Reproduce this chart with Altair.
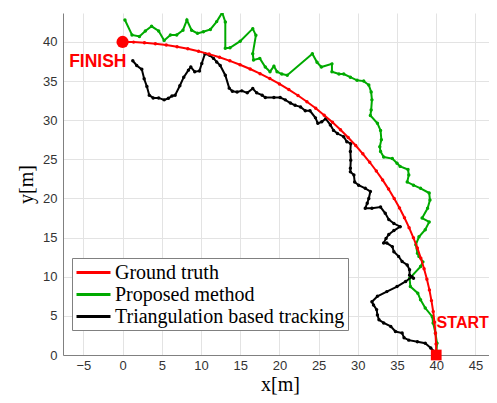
import altair as alt
import pandas as pd

# ---------------- data ----------------
gt_x = [40.00, 39.98, 39.90, 39.78, 39.61, 39.39, 39.13, 38.81, 38.45, 38.04, 37.59, 37.09,
        36.54, 35.95, 35.32, 34.64, 33.92, 33.16, 32.36, 31.52, 30.64, 29.73, 28.77, 27.79,
        26.77, 25.71, 24.63, 23.51, 22.37, 21.20, 20.00, 18.78, 17.53, 16.27, 14.98, 13.68,
        12.36, 11.03, 9.68, 8.32, 6.95, 5.57, 4.18, 2.79, 1.40, 0.00]
gt_y = [0.00, 1.40, 2.79, 4.18, 5.57, 6.95, 8.32, 9.68, 11.03, 12.36, 13.68, 14.98,
        16.27, 17.53, 18.78, 20.00, 21.20, 22.37, 23.51, 24.63, 25.71, 26.77, 27.79, 28.77,
        29.73, 30.64, 31.52, 32.36, 33.16, 33.92, 34.64, 35.32, 35.95, 36.54, 37.09, 37.59,
        38.04, 38.45, 38.81, 39.13, 39.39, 39.61, 39.78, 39.90, 39.98, 40.00]

pm_x = [40.0, 40.1, 39.9, 39.6, 39.5, 38.6, 38.0, 37.65, 36.7, 36.6, 38.0, 38.3, 37.8, 37.6,
        37.4, 37.8, 38.6, 39.1, 38.2, 38.9, 39.2, 39.1, 38.0, 37.1, 36.3, 36.5, 36.4, 35.4,
        35.0, 34.4, 33.3, 32.9, 32.8, 33.0, 32.9, 32.5, 31.6, 31.7, 31.8, 31.7, 31.4, 30.75,
        29.9, 29.05, 28.2, 27.6, 26.7, 26.7, 25.35, 24.8, 24.2, 21.0, 20.3, 19.7, 19.3, 18.8,
        18.2, 17.5, 16.7, 16.6, 17.0, 16.6, 15.0, 13.7, 13.1, 13.1, 12.7, 12.0, 11.2, 10.3,
        9.55, 8.8, 8.2, 7.7, 6.9, 6.1, 5.3, 4.6, 3.7, 2.9, 2.15, 1.2, 0.3]
pm_y = [0.0, 1.5, 2.8, 4.1, 4.9, 6.0, 7.05, 7.9, 8.75, 9.8, 11.3, 11.9, 12.6, 13.0,
        14.1, 15.1, 16.0, 17.0, 17.5, 18.75, 19.8, 20.7, 21.3, 21.7, 22.1, 23.0, 23.7, 24.1,
        24.5, 25.1, 25.3, 26.0, 26.6, 27.5, 28.7, 29.6, 30.6, 31.3, 32.6, 33.6, 34.5, 35.0,
        35.1, 35.5, 35.9, 35.9, 36.2, 37.2, 36.8, 37.4, 38.5, 35.75, 35.9, 36.2, 36.9, 36.2,
        36.8, 37.9, 37.7, 38.5, 40.85, 41.7, 40.1, 39.25, 39.2, 42.55, 43.75, 42.6, 41.6, 41.3,
        41.1, 41.5, 42.8, 41.5, 40.9, 40.9, 40.2, 41.4, 42.0, 41.4, 40.7, 40.9, 42.8]

tr_x = [39.9, 39.3, 38.6, 37.6, 36.5, 35.9, 35.65, 34.8, 34.2, 33.3, 32.7, 32.5, 32.4, 32.0,
        31.8, 32.5, 33.7, 35.0, 36.1, 36.9, 37.1, 36.6, 36.6, 36.3, 35.65, 35.2, 34.6, 34.4,
        33.7, 33.3, 33.6, 33.95, 34.6, 35.4, 34.6, 33.95, 33.5, 32.9, 31.8, 30.95, 31.2, 31.4,
        31.6, 30.95, 30.1, 29.6, 29.5, 29.05, 29.05, 29.1, 29.05, 29.1, 28.6, 28.2, 27.4, 26.9,
        26.5, 25.9, 25.4, 24.9, 24.6, 23.9, 23.3, 22.7, 22.0, 21.4, 20.75, 20.1, 19.3, 18.2,
        17.8, 17.1, 16.6, 15.9, 15.2, 14.6, 14.0, 13.6, 13.1, 12.45, 12.0, 11.6, 11.1, 10.5,
        10.1, 9.8, 9.2, 8.7, 8.4, 7.8, 7.3, 6.7, 6.3, 5.85, 5.3, 4.6, 3.9, 3.4, 3.1, 2.75,
        2.45, 1.8, 1.3]
tr_y = [0.3, 0.9, 1.5, 1.7, 1.9, 2.2, 2.8, 3.0, 3.65, 4.1, 4.5, 5.1, 5.8, 6.4,
        6.8, 7.5, 8.1, 8.75, 9.4, 10.0, 9.8, 10.2, 10.9, 11.5, 11.95, 12.6, 13.2, 13.85,
        14.3, 14.3, 14.9, 15.4, 15.9, 16.4, 16.8, 17.3, 18.1, 18.9, 18.75, 18.75, 19.4, 20.0,
        20.9, 21.3, 21.7, 22.1, 23.0, 23.4, 23.85, 24.9, 26.0, 27.0, 27.25, 27.9, 28.3, 28.7,
        29.4, 30.2, 29.8, 29.6, 30.3, 31.2, 31.2, 31.7, 31.9, 32.2, 32.6, 32.9, 32.9, 32.9,
        33.2, 33.5, 34.05, 33.5, 33.75, 33.6, 33.7, 34.1, 35.75, 37.0, 37.45, 37.9, 38.3, 38.5,
        37.25, 36.3, 36.2, 36.8, 36.4, 35.5, 34.4, 33.2, 33.1, 32.8, 32.6, 32.85, 32.85, 33.2, 34.3, 35.3,
        36.5, 37.0, 37.6]

series_names = ["Ground truth", "Proposed method", "Triangulation based tracking"]
series_colors = ["#FF0000", "#00AA00", "#000000"]

finish_xy = [0.0, 40.0]
start_xy = [40.0, 0.0]
label_text = ["FINISH", "START"]
label_x = [0.5, 40.05]
label_y = [37.5, 4.05]

x_ticks = [-5, 0, 5, 10, 15, 20, 25, 30, 35, 40, 45]
y_ticks = [0, 5, 10, 15, 20, 25, 30, 35, 40]

# ---------------- build table ----------------
rows = []
for name, xs, ys in zip(series_names, [gt_x, pm_x, tr_x], [gt_y, pm_y, tr_y]):
    for i, (a, b) in enumerate(zip(xs, ys)):
        rows.append({"series": name, "x": a, "y": b, "i": i})
df = pd.DataFrame(rows)

xscale = alt.Scale(domain=[-7.6, 46.73], nice=False, zero=False)
yscale = alt.Scale(domain=[0, 43.7], nice=False, zero=False)

xenc = alt.X("x:Q", scale=xscale,
             axis=alt.Axis(values=x_ticks, title="x[m]", grid=True, titleX=217))
yenc = alt.Y("y:Q", scale=yscale,
             axis=alt.Axis(values=y_ticks, title="y[m]", grid=True))

color = alt.Color(
    "series:N",
    scale=alt.Scale(domain=series_names, range=series_colors),
    legend=alt.Legend(
        orient="none", legendX=9, legendY=245, title=None,
        symbolType="M-1,0L2.4,0", symbolSize=400, symbolStrokeWidth=3,
        labelFont="Liberation Serif", labelFontSize=20, labelColor="black",
        labelLimit=400, strokeColor="#808080", fillColor="white",
        padding=3, rowPadding=0, labelOffset=17,
    ),
)


def series_layer(name):
    return alt.Chart(df).transform_filter(alt.datum.series == name).mark_line(
        strokeWidth=2, clip=True,
        point=alt.OverlayMarkDef(size=12, filled=True, opacity=1),
    ).encode(x=xenc, y=yenc, color=color, order=alt.Order("i:Q"))


green = series_layer("Proposed method")
black = series_layer("Triangulation based tracking")
red = series_layer("Ground truth")

finish = alt.Chart(pd.DataFrame({"x": [finish_xy[0]], "y": [finish_xy[1]]})).mark_point(
    shape="circle", filled=True, size=150, color="#FF0000", opacity=1
).encode(x="x:Q", y="y:Q")

start = alt.Chart(pd.DataFrame({"x": [start_xy[0]], "y": [start_xy[1]]})).mark_point(
    shape="square", filled=True, size=115, color="#FF0000", opacity=1
).encode(x="x:Q", y="y:Q")

lbl_df = pd.DataFrame({"t": label_text, "x": label_x, "y": label_y})
finish_lbl = alt.Chart(lbl_df.iloc[[0]]).mark_text(
    align="right", baseline="middle", font="Liberation Sans", fontWeight="bold",
    fontSize=17.5, color="#FF0000"
).encode(x="x:Q", y="y:Q", text="t:N")
start_lbl = alt.Chart(lbl_df.iloc[[1]]).mark_text(
    align="left", baseline="middle", font="Liberation Sans", fontWeight="bold",
    fontSize=16, color="#FF0000"
).encode(x="x:Q", y="y:Q", text="t:N")

chart = alt.layer(green, black, red, finish, start, finish_lbl, start_lbl).properties(
    width=426, height=342,
    autosize=alt.AutoSizeParams(type="none"),
    padding={"left": 55, "top": 5, "right": 0, "bottom": 40},
).configure_view(stroke=None).configure_axis(
    labelFont="Liberation Sans", labelFontSize=13, labelColor="#333333",
    titleFont="Liberation Serif", titleFontSize=20, titleFontWeight="normal",
    titleColor="#000000", domainColor="#808080", domainWidth=1,
    gridColor="#e3e3e3", gridWidth=1, ticks=False, labelPadding=6,
).configure_axisX(titlePadding=2, labelPadding=4).configure_axisY(titlePadding=6)

chart.save("out.html", embed_options={"renderer": "svg", "actions": False})
